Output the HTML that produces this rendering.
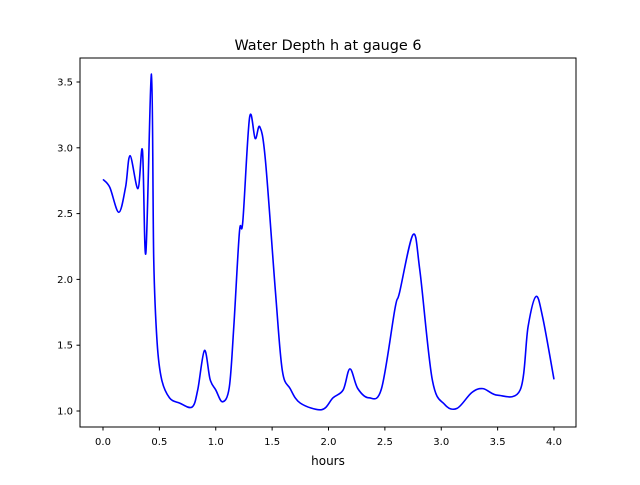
<!DOCTYPE html>
<html><head><meta charset="utf-8"><style>body{margin:0;background:#fff}svg text{font-family:"DejaVu Sans","Liberation Sans",sans-serif;fill:#000}</style></head>
<body>
<svg id="chart" width="640" height="480" xmlns="http://www.w3.org/2000/svg">
<rect width="640" height="480" fill="#fff"/>
<text x="328" y="50" font-size="14.4" text-anchor="middle">Water Depth h at gauge 6</text>
<g id="plot"></g>
<rect x="80" y="58" width="496" height="369" fill="none" stroke="#000" stroke-width="1"/>
<text x="328" y="465" font-size="12" text-anchor="middle">hours</text>
</svg>
<script>
const hours=[0,0.06,0.14,0.2,0.24,0.31,0.35,0.38,0.43,0.45,0.48,0.52,0.59,0.68,0.79,0.84,0.9,0.95,1.0,1.06,1.12,1.16,1.21,1.24,1.30,1.35,1.39,1.44,1.53,1.59,1.66,1.75,1.94,2.04,2.13,2.19,2.26,2.36,2.47,2.59,2.63,2.75,2.81,2.92,3.03,3.14,3.27,3.37,3.50,3.70,3.77,3.84,3.90,4.0];
const depth=[2.76,2.70,2.51,2.70,2.94,2.69,2.98,2.20,3.56,2.15,1.52,1.24,1.10,1.06,1.03,1.16,1.46,1.24,1.16,1.07,1.18,1.64,2.36,2.44,3.23,3.07,3.16,2.91,1.90,1.31,1.17,1.06,1.01,1.10,1.16,1.32,1.17,1.10,1.17,1.78,1.90,2.34,2.07,1.24,1.05,1.02,1.14,1.17,1.12,1.16,1.64,1.87,1.71,1.24];
const xTicks=[0,0.5,1,1.5,2,2.5,3,3.5,4];
const yTicks=[1,1.5,2,2.5,3,3.5];
const X=v=>103+v*112.75, Y=v=>411-(v-1)*131.6;
const NS='http://www.w3.org/2000/svg', g=document.getElementById('plot');
function mk(t,a){const e=document.createElementNS(NS,t);for(const k in a)e.setAttribute(k,a[k]);g.appendChild(e);return e;}
xTicks.forEach(v=>{
 const l=mk('line',{x1:X(v),x2:X(v),y1:427,y2:430.5,stroke:'#000'});
 
 
 const t=mk('text',{x:X(v),y:445,'font-size':10,'text-anchor':'middle'});t.textContent=v.toFixed(1);
 
 
});
yTicks.forEach(v=>{
 const l=mk('line',{x1:76.5,x2:80,y1:Y(v),y2:Y(v),stroke:'#000'});
 
 
 const t=mk('text',{x:73,y:Y(v)+3.5,'font-size':10,'text-anchor':'end'});t.textContent=v.toFixed(1);
 
 
});
const P=hours.map((h,i)=>[X(h),Y(depth[i])]);
let d='M'+P[0][0]+','+P[0][1];
for(let i=0;i<P.length-1;i++){const p0=P[i-1]||P[i],p1=P[i],p2=P[i+1],p3=P[i+2]||p2;
 d+=` C${p1[0]+(p2[0]-p0[0])/6},${p1[1]+(p2[1]-p0[1])/6} ${p2[0]-(p3[0]-p1[0])/6},${p2[1]-(p3[1]-p1[1])/6} ${p2[0]},${p2[1]}`;}
const line=mk('path',{d:d,fill:'none',stroke:'#0000ff','stroke-width':1.6});


</script>
</body></html>
